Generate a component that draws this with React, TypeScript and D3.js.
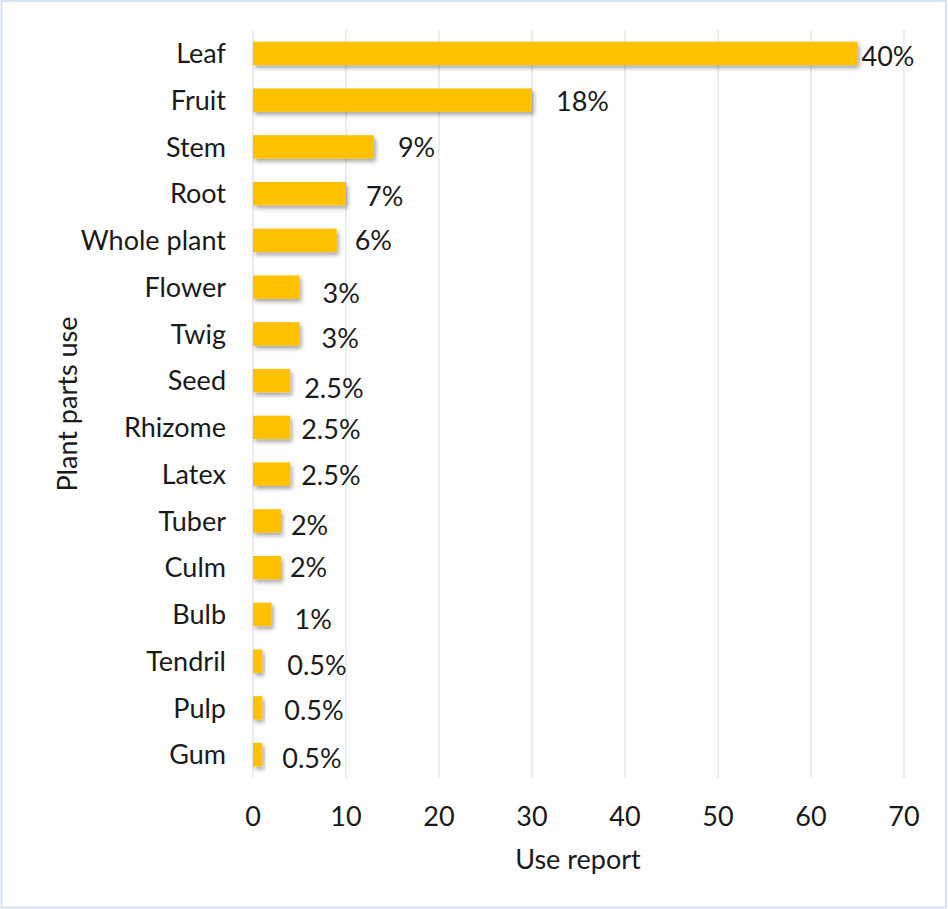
import React from "react";
import * as d3 from "d3";

const categories = ["Leaf","Fruit","Stem","Root","Whole plant","Flower","Twig","Seed","Rhizome","Latex","Tuber","Culm","Bulb","Tendril","Pulp","Gum"];
const useReports = [65,30,13,10,9,5,5,4,4,4,3,3,2,1,1,1];
const percentLabels = ["40%","18%","9%","7%","6%","3%","3%","2.5%","2.5%","2.5%","2%","2%","1%","0.5%","0.5%","0.5%"];
const xTicks = [0,10,20,30,40,50,60,70];

// manual label nudges (gap from bar end, vertical offset) as placed in the original
const labelGap = [4,24,24,20,18,23,22,14,11,11,10,9,23,25,22,20];
const labelDy = [3,1,0,3,0,6,4.6,8,1.5,1.5,4.4,0,4.5,4,2.4,4];

const W = 948, H = 909;
const FONT = "Lato, 'Open Sans', sans-serif";
const TXT = "#1a1a1a";

export default function App() {
  const x = d3.scaleLinear().domain([0, 70]).range([253, 904]);
  const y = d3.scaleBand<string>().domain(categories).range([30, 778]).paddingInner(0.5).paddingOuter(0.25);
  const fs = 27;
  const base = 9.7;
  return (
    <svg width={W} height={H} style={{ position: "absolute", left: 0, top: 0, background: "#fff" }}>
      <defs>
        <filter id="sh" x="-20%" y="-50%" width="150%" height="250%">
          <feDropShadow dx="2" dy="3" stdDeviation="2" floodColor="#000" floodOpacity="0.35" />
        </filter>
      </defs>
      <rect x={1.5} y={1} width={944.5} height={906.5} fill="#fff" stroke="#d6e2f2" strokeWidth={2} />
      {xTicks.map((t) => (
        <line key={t} x1={x(t)} x2={x(t)} y1={30} y2={778} stroke="#d9e3f1" strokeWidth={1.3} />
      ))}
      {categories.map((c, i) => (
        <rect key={c} x={x(0)} y={y(c)} width={x(useReports[i]) - x(0)} height={y.bandwidth()} fill="#FFC000" filter="url(#sh)" />
      ))}
      {categories.map((c) => (
        <text key={c} x={226} y={(y(c) as number) + y.bandwidth() / 2 + base} textAnchor="end" fontFamily={FONT} fontSize={fs} fill={TXT}>{c}</text>
      ))}
      {categories.map((c, i) => (
        <text key={c + "l"} x={x(useReports[i]) + labelGap[i]} y={(y(c) as number) + y.bandwidth() / 2 + labelDy[i] + base} fontFamily={FONT} fontSize={fs} fill={TXT}>{percentLabels[i]}</text>
      ))}
      {xTicks.map((t) => (
        <text key={t} x={x(t)} y={825.5} textAnchor="middle" fontFamily={FONT} fontSize={fs} fill={TXT}>{t}</text>
      ))}
      <text x={578} y={869} textAnchor="middle" fontFamily={FONT} fontSize={fs} fill={TXT}>Use report</text>
      <text transform={`translate(77,404) rotate(-90)`} textAnchor="middle" fontFamily={FONT} fontSize={fs} fill={TXT}>Plant parts use</text>
    </svg>
  );
}
